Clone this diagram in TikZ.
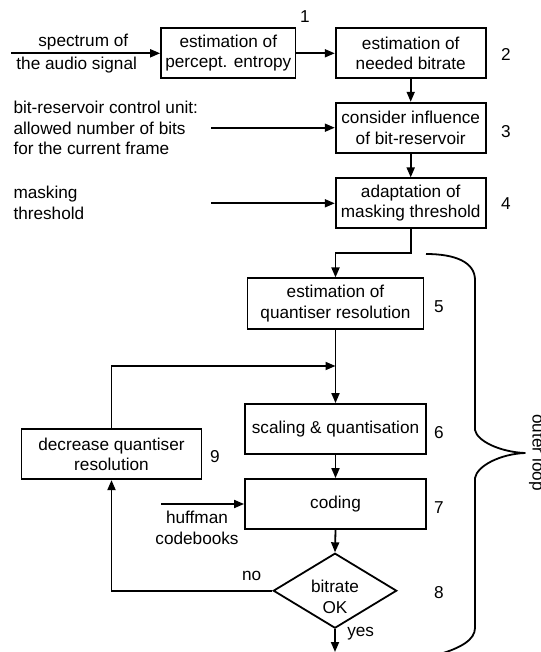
\documentclass[tikz,border=0pt]{standalone}
\usepackage{fontspec}
\setmainfont{Liberation Sans}
\usetikzlibrary{shapes.geometric,arrows.meta}
\begin{document}
\begin{tikzpicture}[x=1pt,y=-1pt,
  every node/.style={font=\fontsize{17.2}{20.5}\selectfont},
  blk/.style={draw, line width=1.8pt, minimum height=50pt, inner sep=0pt, align=center},
  arr/.style={line width=1.8pt, -{Triangle[length=10pt,width=8pt]}},
  wire/.style={line width=1.8pt},
  num/.style={inner sep=0pt}]
\useasboundingbox (0,0) rectangle (540,652);
\clip (0,0) rectangle (540,652);

% processing blocks
\node[blk, minimum width=134.5pt] (pe)   at (228.3,53.3)  {estimation of\\percept. entropy};
\node[blk, minimum width=150pt]   (nb)   at (410.7,53.3)  {estimation of\\needed bitrate};
\node[blk, minimum width=150pt]   (br)   at (410.7,127.7) {consider influence\\of bit-reservoir};
\node[blk, minimum width=150pt]   (mt)   at (410.7,203.3) {adaptation of\\masking threshold};
\node[blk, minimum width=176pt, minimum height=50.7pt] (qr) at (335.5,303.7) {estimation of\\quantiser resolution};
\node[blk, minimum width=181pt]   (sq)   at (335.5,429)   {scaling \& quantisation};
\node[blk, minimum width=181pt]   (cod)  at (335.5,504)   {coding};
\node[blk, minimum width=180pt]   (dec)  at (111.5,454.2) {decrease quantiser\\resolution};
\node[draw, line width=1.8pt, shape=diamond, inner sep=0pt, aspect=1.64,
      minimum width=123.4pt, minimum height=75pt,
      label={[align=center, yshift=-6pt]center:bitrate\\OK}] (ok) at (335,590.7) {};

% step numbers
\node[num] (n1) at (304.8,16.7)  {1};
\node[num] (n2) at (506,54)      {2};
\node[num] (n3) at (506,131.7)   {3};
\node[num] (n4) at (506,203.3)   {4};
\node[num] (n5) at (439,306.7)   {5};
\node[num] (n6) at (439,432.7)   {6};
\node[num] (n7) at (439,507.3)   {7};
\node[num] (n8) at (439,592.3)   {8};
\node[num] (n9) at (215,456.7)   {9};

% external inputs
\node (spec1) at (83.3,41.7) {spectrum of};
\node (spec2) at (76.7,65)   {the audio signal};
\node[anchor=west, align=left, inner sep=0pt] (bitres) at (13.3,128)
  {bit-reservoir control unit:\\allowed number of bits\\for the current frame};
\node[anchor=west, align=left, inner sep=0pt] (mask) at (13.3,202.8) {masking\\threshold};
\node[align=center, inner sep=0pt] (huff) at (197,527.8) {huffman\\codebooks};
\node (no)  at (251.7,576)   {no};
\node (yes) at (360.7,633.3) {yes};

\coordinate (in1) at (11,53.3);
\coordinate (in3) at (211,127.7);
\coordinate (in4) at (211,203.3);
\coordinate (in7) at (161.2,504);
\coordinate (j1)  at (410.7,252.7);
\coordinate (merge) at (335.5,366);
\coordinate (out) at (335,652);

% signal flow
\draw[arr] (in1) -- (pe.west);
\draw[arr] (pe.east) -- (nb.west);
\draw[arr] (nb.south) -- (br.north);
\draw[arr] (in3) -- (br.west);
\draw[arr] (br.south) -- (mt.north);
\draw[arr] (in4) -- (mt.west);
\draw[arr] (mt.south) -- (j1) -| (qr.north);
\draw[arr] (qr.south) -- (sq.north);
\draw[arr] (dec.north) |- (merge);
\draw[arr] (sq.south) -- (cod.north);
\draw[arr] (in7) -- (cod.west);
\draw[arr] (cod.south) -- (ok.north);
\draw[arr] (ok.west) -| (dec.south);
\draw[arr] (ok.south) -- (out);

% outer loop brace
\draw[wire, line join=round]
  (426,254) .. controls (455,254) and (475,262) .. (475,280)
  -- (475,430) .. controls (477,441) and (500,452) .. (525,453)
  .. controls (500,454) and (477,466) .. (475,478)
  -- (475,628) .. controls (475,640) and (460,648) .. (440,654);
\node[rotate=-90, anchor=base, inner sep=0pt] (loop) at (532.5,452.5) {outer loop};
\end{tikzpicture}
\end{document}
